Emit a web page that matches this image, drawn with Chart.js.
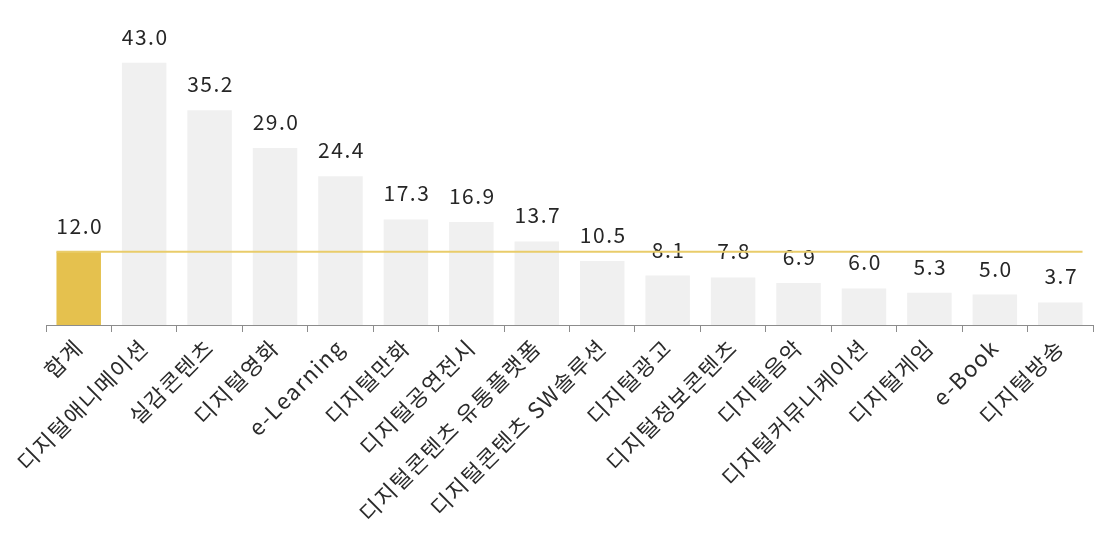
<!DOCTYPE html>
<html>
<head>
<meta charset="utf-8">
<script src="https://cdn.jsdelivr.net/npm/chart.js@4"></script>
<style>
  html, body { margin: 0; padding: 0; background: #fff; }
  #wrap { width: 1098px; height: 550px; }
</style>
</head>
<body>
<div id="wrap"><canvas id="chart"></canvas></div>
<script>
// categories and values
const categories = ['합계', '디지털애니메이션', '실감콘텐츠', '디지털영화', 'e-Learning', '디지털만화',
    '디지털공연전시', '디지털콘텐츠 유통플랫폼', '디지털콘텐츠 SW솔루션', '디지털광고', '디지털정보콘텐츠',
    '디지털음악', '디지털커뮤니케이션', '디지털게임', 'e-Book', '디지털방송'];
const values = [12.0, 43.0, 35.2, 29.0, 24.4, 17.3, 16.9, 13.7, 10.5, 8.1, 7.8, 6.9, 6.0, 5.3, 5.0, 3.7];
const totalValue = 12.0;

const FONT = '"Noto Sans CJK KR", "Noto Sans", sans-serif';
const barColors = values.map((v, i) => i == 0 ? '#e5c14e' : '#f0f0f0');

// the original text is spaced a bit wider than Noto Sans
const wideText = {
    id: 'wideText',
    beforeLayout(chart) { chart.ctx.letterSpacing = '1.5px'; },
    beforeDraw(chart) { chart.ctx.letterSpacing = '1.5px'; }
};

// writes the value above each bar
const valueLabels = {
    id: 'valueLabels',
    afterDatasetsDraw(chart) {
        const ctx = chart.ctx;
        const meta = chart.getDatasetMeta(0);
        ctx.save();
        ctx.font = '21px ' + FONT;
        ctx.letterSpacing = '1.5px';
        ctx.fillStyle = '#262626';
        ctx.textAlign = 'center';
        ctx.textBaseline = 'alphabetic';
        meta.data.forEach((bar, i) => {
            ctx.fillText(values[i].toFixed(1), bar.x + 1, bar.y - 18);
        });
        ctx.restore();
    }
};

// horizontal line at the total value, across all bars
const totalLine = {
    id: 'totalLine',
    afterDatasetsDraw(chart) {
        const ctx = chart.ctx;
        const meta = chart.getDatasetMeta(0);
        const first = meta.data[0];
        const last = meta.data[meta.data.length - 1];
        const y = chart.scales.y.getPixelForValue(totalValue);
        ctx.save();
        ctx.strokeStyle = '#e9cc6a';
        ctx.lineWidth = 2;
        ctx.beginPath();
        ctx.moveTo(first.x - first.width / 2, y);
        ctx.lineTo(last.x + last.width / 2, y);
        ctx.stroke();
        ctx.restore();
    }
};

new Chart(document.getElementById('chart').getContext('2d'), {
    type: 'bar',
    data: {
        labels: categories,
        datasets: [{
            data: values,
            backgroundColor: barColors,
            borderWidth: 0,
            categoryPercentage: 1,
            barPercentage: 0.68
        }]
    },
    options: {
        responsive: true,
        maintainAspectRatio: false,
        animation: false,
        layout: { padding: { left: 46, right: 5, top: 20, bottom: 0 } },
        plugins: {
            legend: { display: false },
            tooltip: { enabled: false }
        },
        scales: {
            x: {
                grid: {
                    offset: true,
                    drawOnChartArea: false,
                    drawTicks: true,
                    tickLength: 7,
                    color: '#8c8c8c'
                },
                border: { display: true, color: '#8c8c8c', width: 1 },
                ticks: {
                    autoSkip: false,
                    minRotation: 45,
                    maxRotation: 45,
                    padding: 2,
                    color: '#2b2b2b',
                    font: { family: FONT, size: 22 }
                },
                afterFit(scale) { scale.height = 225; }
            },
            y: {
                display: false,
                min: 0,
                max: 50
            }
        }
    },
    plugins: [wideText, valueLabels, totalLine]
});
</script>
</body>
</html>
